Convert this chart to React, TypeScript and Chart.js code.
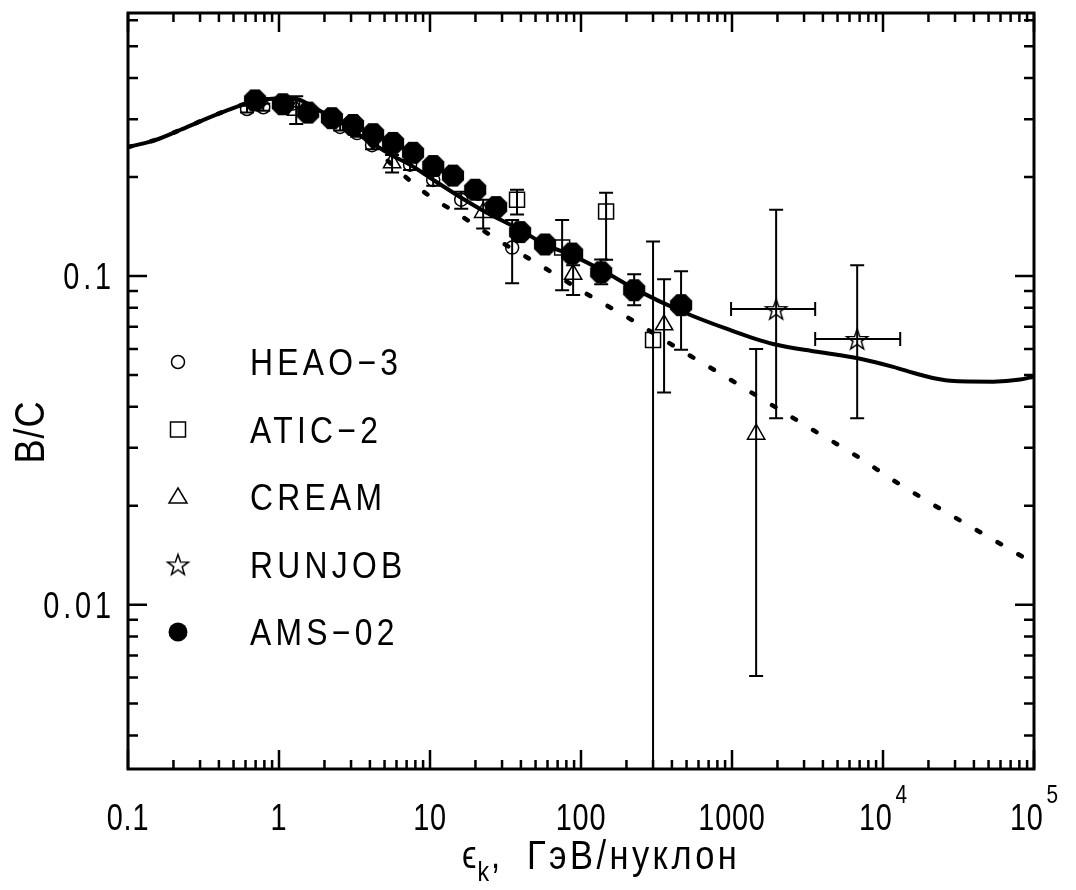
import React, { useEffect, useRef } from 'react';
import { Chart, registerables } from 'chart.js';

Chart.register(...registerables);

// ---------------- data ----------------
// model curves (solid: full model, dotted: without extra source)
const solidX = [0.1, 0.151, 0.221, 0.314, 0.453, 0.614, 0.833, 1.239, 1.786, 2.656, 4.009, 5.692, 7.38, 10.5, 16.1, 22.5, 40.1, 57.8, 87.3, 138, 228, 475, 928, 1873, 3664, 7060, 11680, 17620, 27860, 53650, 81030, 100000];
const solidY = [0.2467, 0.259, 0.278, 0.298, 0.319, 0.335, 0.3447, 0.347, 0.3216, 0.2896, 0.2555, 0.2318, 0.218, 0.196, 0.173, 0.158, 0.1375, 0.1247, 0.1155, 0.104, 0.0912, 0.0777, 0.069, 0.0621, 0.0588, 0.056, 0.0529, 0.05005, 0.048, 0.0477, 0.0484, 0.0494];
const dottedX = [0.1, 0.151, 0.221, 0.314, 0.453, 0.614, 0.833, 1.239, 1.786, 2.656, 4.009, 5.44, 7.38, 10.3, 14.2, 27.8, 55.2, 110, 218, 433, 860, 1683, 3293, 6540, 12590, 100000];
const dottedY = [0.2467, 0.259, 0.278, 0.298, 0.319, 0.335, 0.3447, 0.347, 0.3216, 0.2896, 0.252, 0.2208, 0.1948, 0.173, 0.158, 0.1291, 0.107, 0.088, 0.0734, 0.0604, 0.0501, 0.0415, 0.0344, 0.0285, 0.0234, 0.01334];

// HEAO-3
const heaoX = [0.614, 0.787, 1.24, 2.54, 3.29, 4.13, 7.38, 10.5, 16.1, 35.0];
const heaoY = [0.322, 0.326, 0.335, 0.284, 0.272, 0.250, 0.218, 0.196, 0.1706, 0.122];
const heaoLo = [0.314, 0.318, 0.327, 0.277, 0.265, 0.243, 0.2102, 0.188, 0.160, 0.095];
const heaoHi = [0.330, 0.334, 0.343, 0.291, 0.279, 0.257, 0.2255, 0.203, 0.1804, 0.148];

// ATIC-2
const aticX = [37.7, 75, 146.6, 300];
const aticY = [0.1706, 0.122, 0.157, 0.0639];
const aticLo = [0.1537, 0.0905, 0.112, 0.0001];
const aticHi = [0.183, 0.148, 0.179, 0.1274];

// CREAM
const creamX = [1.30, 5.61, 22.5, 88.7, 355, 1445];
const creamY = [0.319, 0.221, 0.156, 0.1012, 0.0710, 0.033];
const creamLo = [0.290, 0.2063, 0.1394, 0.0875, 0.0442, 0.00607];
const creamHi = [0.352, 0.2335, 0.1706, 0.1077, 0.0977, 0.060];

// RUNJOB
const runjobX = [1960, 6745];
const runjobY = [0.0793, 0.0643];
const runjobLo = [0.0369, 0.0369];
const runjobHi = [0.159, 0.1077];
const runjobXLo = [986, 3555];
const runjobXHi = [3555, 13000];

// AMS-02
const amsX = [0.694, 1.06, 1.56, 2.24, 3.09, 4.2, 5.69, 7.72, 10.5, 14.2, 19.9, 27.4, 39.5, 57.8, 87.3, 136, 225, 460];
const amsY = [0.342, 0.333, 0.314, 0.302, 0.288, 0.270, 0.254, 0.237, 0.216, 0.202, 0.183, 0.162, 0.136, 0.1247, 0.117, 0.1026, 0.0905, 0.0815];
const amsLo: (number | null)[] = [null, null, null, null, null, null, null, null, null, null, null, null, null, null, null, 0.0944, 0.0815, 0.0596];
const amsHi: (number | null)[] = [null, null, null, null, null, null, null, null, null, null, null, null, null, null, null, 0.1123, 0.1012, 0.1033];

// axes
const xMin = 0.1;
const xMax = 100000;
const yMin = Math.pow(10, -2.5);
const yMax = Math.pow(10, -0.2);
const xTickValues = [0.1, 1, 10, 100, 1000, 10000, 100000];
const xTickBases = ['0.1', '1', '10', '100', '1000', '10', '10'];
const xTickExps = ['', '', '', '', '', '4', '5'];
const yTickValues = [0.01, 0.1];
const yTickLabels = ['0.01', '0.1'];
const yTitle = 'B/C';
const xTitleSymbol = 'ϵ';
const xTitleSub = 'k';
const xTitleRest = 'ГэВ/нуклон';
const legendLabels = ['HEAO−3', 'ATIC−2', 'CREAM', 'RUNJOB', 'AMS−02'];

const FONT = '"Liberation Sans", Arial, sans-serif';

// ---------------- marker images ----------------
function makeStar(size: number, rOut: number, lw: number) {
  const c = document.createElement('canvas');
  c.width = size;
  c.height = size;
  const g = c.getContext('2d')!;
  const rIn = rOut * 0.4;
  g.beginPath();
  for (let i = 0; i < 10; i++) {
    const r = i % 2 === 0 ? rOut : rIn;
    const a = -Math.PI / 2 + (i * Math.PI) / 5;
    const px = size / 2 + r * Math.cos(a);
    const py = size / 2 + 1 + r * Math.sin(a);
    if (i === 0) g.moveTo(px, py);
    else g.lineTo(px, py);
  }
  g.closePath();
  g.lineWidth = lw;
  g.strokeStyle = '#000';
  g.stroke();
  return c;
}

function makeOct(size: number, r: number) {
  const c = document.createElement('canvas');
  c.width = size;
  c.height = size;
  const g = c.getContext('2d')!;
  g.beginPath();
  for (let i = 0; i < 8; i++) {
    const a = Math.PI / 8 + (i * Math.PI) / 4;
    const px = size / 2 + r * Math.cos(a);
    const py = size / 2 + r * Math.sin(a);
    if (i === 0) g.moveTo(px, py);
    else g.lineTo(px, py);
  }
  g.closePath();
  g.fillStyle = '#000';
  g.fill();
  return c;
}

type Bar = { x: number; y: number; lo: number | null; hi: number | null; xlo?: number; xhi?: number };

function pts(xs: number[], ys: number[]) {
  return xs.map((x, i) => ({ x, y: ys[i] }));
}

function txt(ctx: CanvasRenderingContext2D, s: string, x: number, y: number, size: number, align: CanvasTextAlign, spacing: number, sx: number) {
  ctx.save();
  ctx.font = `${size}px ${FONT}`;
  (ctx as any).letterSpacing = `${spacing}px`;
  ctx.textAlign = align;
  ctx.textBaseline = 'alphabetic';
  ctx.translate(x, y);
  ctx.scale(sx, 1);
  ctx.fillText(s, 0, 0);
  ctx.restore();
}

function txtWidth(ctx: CanvasRenderingContext2D, s: string, size: number, spacing: number, sx: number) {
  ctx.save();
  ctx.font = `${size}px ${FONT}`;
  (ctx as any).letterSpacing = `${spacing}px`;
  const w = ctx.measureText(s).width * sx;
  ctx.restore();
  return w;
}

let starImg: HTMLCanvasElement;

const overlayPlugin = {
  id: 'overlay',
  beforeDatasetsDraw(chart: any) {
    const ctx: CanvasRenderingContext2D = chart.ctx;
    const a = chart.chartArea;
    const xs = chart.scales.x;
    const ys = chart.scales.y;
    ctx.save();
    ctx.beginPath();
    ctx.rect(a.left, a.top, a.right - a.left, a.bottom - a.top);
    ctx.clip();
    ctx.strokeStyle = '#000';
    ctx.lineWidth = 2;
    const cap = 7;
    chart.data.datasets.forEach((ds: any) => {
      const bars: Bar[] | undefined = ds.errorBars;
      if (!bars) return;
      bars.forEach((b) => {
        const px = xs.getPixelForValue(b.x);
        const py = ys.getPixelForValue(b.y);
        if (b.lo != null && b.hi != null) {
          const p1 = ys.getPixelForValue(b.hi);
          const p2 = ys.getPixelForValue(b.lo);
          ctx.beginPath();
          ctx.moveTo(px, p1);
          ctx.lineTo(px, p2);
          ctx.moveTo(px - cap, p1);
          ctx.lineTo(px + cap, p1);
          ctx.moveTo(px - cap, p2);
          ctx.lineTo(px + cap, p2);
          ctx.stroke();
        }
        if (b.xlo != null && b.xhi != null) {
          const q1 = xs.getPixelForValue(b.xlo);
          const q2 = xs.getPixelForValue(b.xhi);
          ctx.beginPath();
          ctx.moveTo(q1, py);
          ctx.lineTo(q2, py);
          ctx.moveTo(q1, py - cap);
          ctx.lineTo(q1, py + cap);
          ctx.moveTo(q2, py - cap);
          ctx.lineTo(q2, py + cap);
          ctx.stroke();
        }
      });
    });
    ctx.restore();
  },
  afterDraw(chart: any) {
    const ctx: CanvasRenderingContext2D = chart.ctx;
    const a = chart.chartArea;
    const xs = chart.scales.x;
    const ys = chart.scales.y;
    ctx.save();
    ctx.strokeStyle = '#000';
    ctx.fillStyle = '#000';

    // ticks
    ctx.lineWidth = 2.5;
    ctx.beginPath();
    for (let k = -1; k <= 5; k++) {
      for (let m = 1; m <= 9; m++) {
        const v = m * Math.pow(10, k);
        if (v < xMin * 0.999 || v > xMax * 1.001) continue;
        const px = xs.getPixelForValue(v);
        const len = m === 1 ? 19 : 9;
        ctx.moveTo(px, a.bottom);
        ctx.lineTo(px, a.bottom - len);
        ctx.moveTo(px, a.top);
        ctx.lineTo(px, a.top + len);
      }
    }
    for (let k = -3; k <= 0; k++) {
      for (let m = 1; m <= 9; m++) {
        const v = m * Math.pow(10, k);
        if (v < yMin || v > yMax) continue;
        const py = ys.getPixelForValue(v);
        const len = m === 1 ? 19 : 10;
        ctx.moveTo(a.left, py);
        ctx.lineTo(a.left + len, py);
        ctx.moveTo(a.right, py);
        ctx.lineTo(a.right - len, py);
      }
    }
    ctx.stroke();

    // frame
    ctx.lineWidth = 3;
    ctx.strokeRect(a.left, a.top, a.right - a.left, a.bottom - a.top);

    // y tick labels
    yTickValues.forEach((v, i) => {
      const py = ys.getPixelForValue(v);
      txt(ctx, yTickLabels[i], 115, py + 13, 37, 'right', 5, 0.78);
    });

    // x tick labels
    xTickValues.forEach((v, i) => {
      const px = xs.getPixelForValue(v);
      const wb = txtWidth(ctx, xTickBases[i], 37, 1, 0.78);
      let we = 0;
      if (xTickExps[i]) we = txtWidth(ctx, xTickExps[i], 26, 0, 0.8) + 3;
      const start = px - (wb + we) / 2;
      txt(ctx, xTickBases[i], start, 830, 37, 'left', 1, 0.78);
      if (xTickExps[i]) txt(ctx, xTickExps[i], start + wb + 3, 803, 26, 'left', 0, 0.8);
    });

    // x title
    const x0 = 462;
    txt(ctx, xTitleSymbol, x0, 868, 38, 'left', 0, 0.86);
    const we = txtWidth(ctx, xTitleSymbol, 38, 0, 0.86);
    txt(ctx, xTitleSub, x0 + we + 1, 881, 27, 'left', 0, 0.86);
    const wk = txtWidth(ctx, xTitleSub, 27, 0, 0.86);
    txt(ctx, ',', x0 + we + wk + 3, 868, 38, 'left', 0, 0.86);
    txt(ctx, xTitleRest, 527, 869, 40, 'left', 4, 0.86);

    // y title
    ctx.save();
    ctx.translate(44, 432);
    ctx.rotate(-Math.PI / 2);
    txt(ctx, yTitle, 0, 0, 42, 'center', 1, 0.86);
    ctx.restore();

    // legend
    const lx = 178;
    ctx.lineWidth = 1.5;
    legendLabels.forEach((lab, i) => {
      const cy = 362 + 67.5 * i;
      ctx.beginPath();
      if (i === 0) {
        ctx.arc(lx, cy, 6.5, 0, Math.PI * 2);
        ctx.stroke();
      } else if (i === 1) {
        ctx.strokeRect(lx - 7.5, cy - 7.5, 15, 15);
      } else if (i === 2) {
        ctx.moveTo(lx, cy - 9);
        ctx.lineTo(lx + 9, cy + 6);
        ctx.lineTo(lx - 9, cy + 6);
        ctx.closePath();
        ctx.stroke();
      } else if (i === 3) {
        ctx.drawImage(starImg, lx - starImg.width / 2, cy - starImg.height / 2);
      } else {
        ctx.arc(lx, cy, 9.5, 0, Math.PI * 2);
        ctx.fill();
      }
      txt(ctx, lab, 250, cy + 13, 37, 'left', 5, 0.86);
    });
    ctx.restore();
  },
};

export default function App() {
  const ref = useRef<HTMLCanvasElement>(null);
  useEffect(() => {
    starImg = makeStar(26, 11, 1.5);
    const octImg = makeOct(28, 12);
    const mk = (xs: number[], ys: number[], lo: (number | null)[], hi: (number | null)[], xlo?: number[], xhi?: number[]): Bar[] =>
      xs.map((x, i) => ({ x, y: ys[i], lo: lo[i], hi: hi[i], xlo: xlo ? xlo[i] : undefined, xhi: xhi ? xhi[i] : undefined }));

    const chart = new Chart(ref.current!, {
      type: 'scatter',
      data: {
        datasets: [
          {
            label: 'AMS-02',
            data: pts(amsX, amsY),
            pointStyle: octImg as any,
            pointRadius: 12,
            order: 0,
            errorBars: mk(amsX, amsY, amsLo, amsHi),
          } as any,
          {
            label: 'HEAO-3',
            data: pts(heaoX, heaoY),
            pointStyle: 'circle',
            pointRadius: 6.5,
            borderWidth: 1.5,
            borderColor: '#000',
            backgroundColor: 'rgba(0,0,0,0)',
            order: 1,
            errorBars: mk(heaoX, heaoY, heaoLo, heaoHi),
          } as any,
          {
            label: 'ATIC-2',
            data: pts(aticX, aticY),
            pointStyle: 'rect',
            pointRadius: 10.6,
            borderWidth: 1.5,
            borderColor: '#000',
            backgroundColor: 'rgba(0,0,0,0)',
            order: 2,
            errorBars: mk(aticX, aticY, aticLo, aticHi),
          } as any,
          {
            label: 'CREAM',
            data: pts(creamX, creamY),
            pointStyle: 'triangle',
            pointRadius: 10,
            borderWidth: 1.5,
            borderColor: '#000',
            backgroundColor: 'rgba(0,0,0,0)',
            order: 3,
            errorBars: mk(creamX, creamY, creamLo, creamHi),
          } as any,
          {
            label: 'RUNJOB',
            data: pts(runjobX, runjobY),
            pointStyle: starImg as any,
            pointRadius: 12,
            order: 4,
            errorBars: mk(runjobX, runjobY, runjobLo, runjobHi, runjobXLo, runjobXHi),
          } as any,
          {
            label: 'model',
            data: pts(solidX, solidY),
            showLine: true,
            pointRadius: 0,
            borderColor: '#000',
            borderWidth: 4,
            cubicInterpolationMode: 'monotone',
            order: 10,
          } as any,
          {
            label: 'model2',
            data: pts(dottedX, dottedY),
            showLine: true,
            pointRadius: 0,
            borderColor: '#000',
            borderWidth: 4.5,
            borderDash: [4, 20],
            borderCapStyle: 'round',
            cubicInterpolationMode: 'monotone',
            order: 11,
          } as any,
        ],
      },
      options: {
        animation: false,
        responsive: false,
        events: [],
        layout: { padding: { left: 128, right: 42, top: 8, bottom: 121 } },
        plugins: { legend: { display: false }, tooltip: { enabled: false } },
        scales: {
          x: { type: 'logarithmic', min: xMin, max: xMax, display: false },
          y: { type: 'logarithmic', min: yMin, max: yMax, display: false },
        },
      },
      plugins: [overlayPlugin],
    });
    return () => chart.destroy();
  }, []);

  return (
    <div style={{ position: 'fixed', left: 0, top: 0, width: 1076, height: 890, background: '#fff' }}>
      <canvas ref={ref} width={1076} height={890} style={{ display: 'block' }} />
    </div>
  );
}
